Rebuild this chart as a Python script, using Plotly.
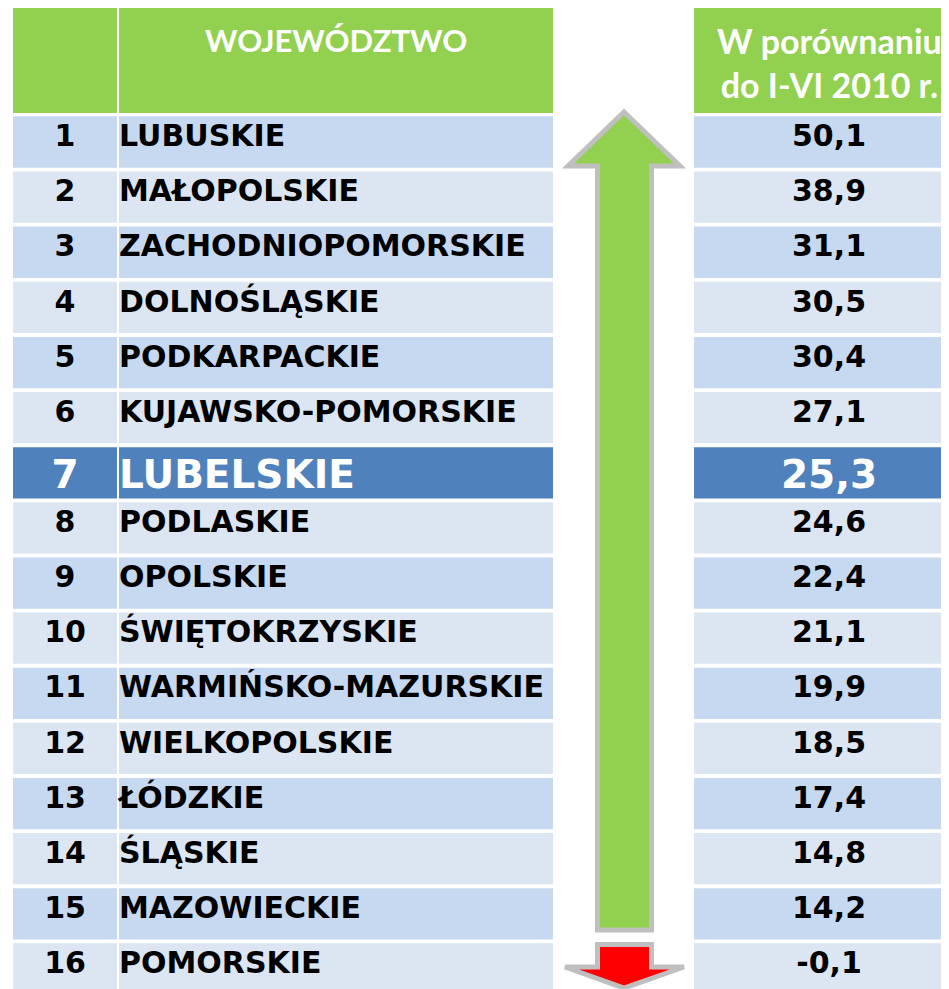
import plotly.graph_objects as go

# ranking data
ranks = list(range(1, 17))
regions = ["LUBUSKIE", "MAŁOPOLSKIE", "ZACHODNIOPOMORSKIE", "DOLNOŚLĄSKIE",
           "PODKARPACKIE", "KUJAWSKO-POMORSKIE", "LUBELSKIE", "PODLASKIE",
           "OPOLSKIE", "ŚWIĘTOKRZYSKIE", "WARMIŃSKO-MAZURSKIE", "WIELKOPOLSKIE",
           "ŁÓDZKIE", "ŚLĄSKIE", "MAZOWIECKIE", "POMORSKIE"]
values = [50.1, 38.9, 31.1, 30.5, 30.4, 27.1, 25.3, 24.6,
          22.4, 21.1, 19.9, 18.5, 17.4, 14.8, 14.2, -0.1]
highlight = "LUBELSKIE"
header_region = "WOJEWÓDZTWO"
header_value = "W porównaniu<br>do I-VI 2010 r."

W, H = 949, 989
OFF = 8  # page body margin, figure sits 8px in from the corner
GREEN = "#92D050"
DARK = "#C6D9F1"
LIGHT = "#DCE6F2"
HL = "#4F81BD"
GRAY = "#BFBFBF"
RED = "#FF0000"
BODY_FONT = "DejaVu Sans"
HEAD_FONT = "Lato"


def py(p):
    # page pixel row -> paper y
    return 1 - (p - OFF) / H


is_hl = [r == highlight for r in regions]
row_colors = [HL if h else (DARK if i % 2 == 0 else LIGHT) for i, h in enumerate(is_hl)]
text_y = [k + 0.1 if h else k - 0.06 for k, h in zip(ranks, is_hl)]
sizes = [39 if h else 30 for h in is_hl]
colors = ["white" if h else "black" for h in is_hl]

fig = go.Figure()

# cell backgrounds: rank, name, value columns
for base, width in [(13, 104), (119, 434), (694, 270)]:
    fig.add_trace(go.Bar(
        y=ranks, x=[width] * len(ranks), base=base, orientation="h",
        width=0.93, marker=dict(color=row_colors, line_width=0),
        hoverinfo="skip"
    ))

fig.add_trace(go.Scatter(
    x=[65] * len(ranks), y=text_y, mode="text",
    text=[f"<b>{k}</b>" for k in ranks], textposition="middle center",
    textfont=dict(family=BODY_FONT, size=sizes, color=colors), hoverinfo="skip"
))
fig.add_trace(go.Scatter(
    x=[119] * len(ranks), y=text_y, mode="text",
    text=[f"<b>{r}</b>" for r in regions], textposition="middle right",
    textfont=dict(family=BODY_FONT, size=sizes, color=colors), hoverinfo="skip"
))
fig.add_trace(go.Scatter(
    x=[829] * len(ranks), y=text_y, mode="text",
    text=[f"<b>{v:.1f}</b>".replace(".", ",") for v in values],
    textposition="middle center",
    textfont=dict(family=BODY_FONT, size=sizes, color=colors), hoverinfo="skip"
))

shapes = []
# header cells
for x0, x1 in [(13, 117), (119, 553), (694, 964)]:
    shapes.append(dict(type="rect", xref="x", yref="paper", x0=x0, x1=x1,
                       y0=py(113), y1=py(8), fillcolor=GREEN, line_width=0))


def path(points):
    return "M " + " L ".join(f"{x},{py(y)}" for x, y in points) + " Z"


# green up arrow
up = [(624, 112), (680, 166), (651.5, 166), (651.5, 930), (597.5, 930),
      (597.5, 166), (568, 166)]
shapes.append(dict(type="path", xref="x", yref="paper", path=path(up),
                   fillcolor=GREEN, line=dict(color=GRAY, width=5)))
# red down arrow
down = [(597.5, 944.5), (651.5, 944.5), (651.5, 967), (684, 967), (624, 988),
        (565, 967), (597.5, 967)]
shapes.append(dict(type="path", xref="x", yref="paper", path=path(down),
                   fillcolor=RED, line=dict(color=GRAY, width=5)))

annotations = [
    dict(x=336, y=py(40), xref="x", yref="paper", text=f"<b>{header_region}</b>",
         showarrow=False, font=dict(family=HEAD_FONT, size=31, color="white"),
         xanchor="center", yanchor="middle"),
    dict(x=829, y=py(63), xref="x", yref="paper", text=f"<b>{header_value}</b>",
         showarrow=False, font=dict(family=HEAD_FONT, size=34, color="white"),
         xanchor="center", yanchor="middle"),
]

# axes in page pixels (x) and rank units (y); row pitch ~55.1px, row 1 centred at 142px
fig.update_layout(
    width=W, height=H,
    margin=dict(l=0, r=0, t=0, b=0),
    paper_bgcolor="white", plot_bgcolor="white",
    barmode="overlay", showlegend=False,
    xaxis=dict(range=[OFF, W + OFF], visible=False, fixedrange=True),
    yaxis=dict(range=[16.509, -1.4306], visible=False, fixedrange=True),
    shapes=shapes, annotations=annotations,
)

fig.write_html("out.html", config={"displayModeBar": False})
